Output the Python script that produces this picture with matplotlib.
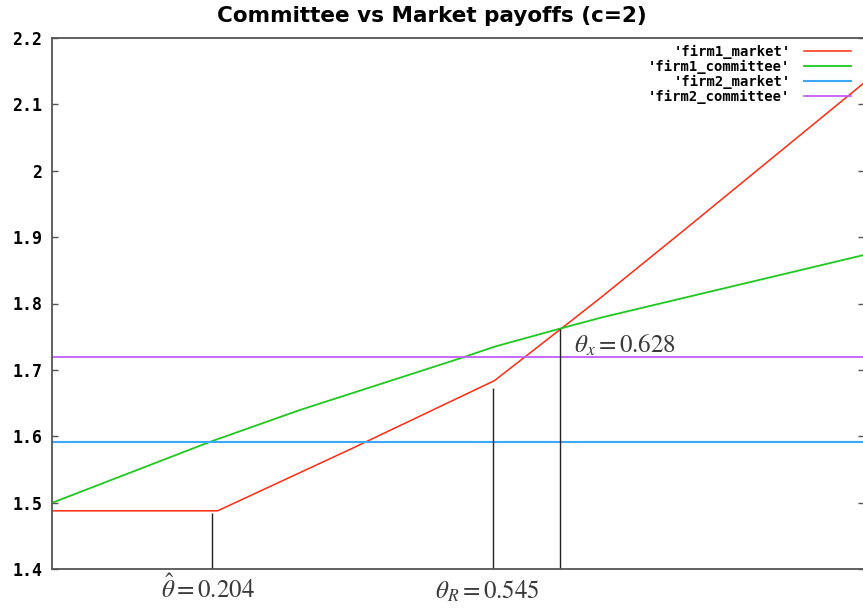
import matplotlib
matplotlib.use("Agg")
import matplotlib.pyplot as plt
from matplotlib.ticker import FuncFormatter, MultipleLocator

# --- data --------------------------------------------------------------------------------
theta_m1 = [0.0, 0.204, 0.368, 0.545, 0.628, 0.677, 0.779, 1.0]
firm1_market = [1.488, 1.488, 1.581, 1.684, 1.763, 1.810, 1.911, 2.132]

theta_c1 = [0.0, 0.195, 0.306, 0.504, 0.545, 0.628, 0.677, 1.0]
firm1_committee = [1.500, 1.592, 1.640, 1.718, 1.735, 1.763, 1.779, 1.873]

firm2_market = 1.592
firm2_committee = 1.720

# vertical marker lines (x, top) and their labels
mark_x = [0.197, 0.543, 0.626]
mark_top = [1.485, 1.673, 1.762]
mark_labels = [r"$\hat{\theta} = 0.204$", r"$\theta_R = 0.545$", r"$\theta_x = 0.628$"]

plt.rcParams["mathtext.fontset"] = "stix"

fig = plt.figure(figsize=(8.63, 6.10), dpi=100)
ax = fig.add_axes([52 / 863, 40.7 / 610, 812 / 863, 531.6 / 610])

ax.plot(theta_m1, firm1_market, color="#ff2a10", lw=1.1, label="'firm1_market'")
ax.plot(theta_c1, firm1_committee, color="#1ec81e", lw=1.3, label="'firm1_committee'")
ax.axhline(firm2_market, color="#3aa8ff", lw=1.5, label="'firm2_market'")
ax.axhline(firm2_committee, color="#c45cff", lw=1.3, label="'firm2_committee'")

ax.vlines(mark_x, 1.4, mark_top, color="#222222", lw=1.0)

# labels drawn by hand in the original
lab_col = "#3a3a3a"
ax.annotate(mark_labels[0], (mark_x[0], 1.4), xytext=(-3, -21), textcoords="offset points",
            ha="center", va="baseline", fontsize=18, color=lab_col, annotation_clip=False)
ax.annotate(mark_labels[1], (mark_x[1], 1.4), xytext=(-4, -21), textcoords="offset points",
            ha="center", va="baseline", fontsize=18, color=lab_col, annotation_clip=False)
ax.annotate(mark_labels[2], (mark_x[2], mark_top[2]), xytext=(10, -17), textcoords="offset points",
            ha="left", va="baseline", fontsize=18, color=lab_col)

ax.set_xlim(0, 1)
ax.set_ylim(1.4, 2.2)
ax.yaxis.set_major_locator(MultipleLocator(0.1))
ax.yaxis.set_major_formatter(FuncFormatter(lambda v, _: f"{v:g}"))
ax.set_xticks([])
ax.tick_params(axis="y", direction="in", length=4.5, width=1, color="#555555",
               right=True, pad=7, labelsize=12)
for t in ax.get_yticklabels():
    t.set_fontfamily("DejaVu Sans Mono")
    t.set_fontweight("bold")
for s in ax.spines.values():
    s.set_color("#555555")
    s.set_linewidth(1.3)

leg = ax.legend(loc="upper right", bbox_to_anchor=(0.984, 0.986), markerfirst=False,
                frameon=False, handlelength=3.4, handletextpad=0.95, labelspacing=0.05,
                borderaxespad=0, borderpad=0,
                prop={"family": "DejaVu Sans Mono", "weight": "bold", "size": 10})

fig.text(0.5, 1 - 22 / 610, "Committee vs Market payoffs (c=2)", ha="center", va="baseline",
         fontsize=15.5, fontweight="bold", family="DejaVu Sans")

fig.savefig("out.png", dpi=100)
